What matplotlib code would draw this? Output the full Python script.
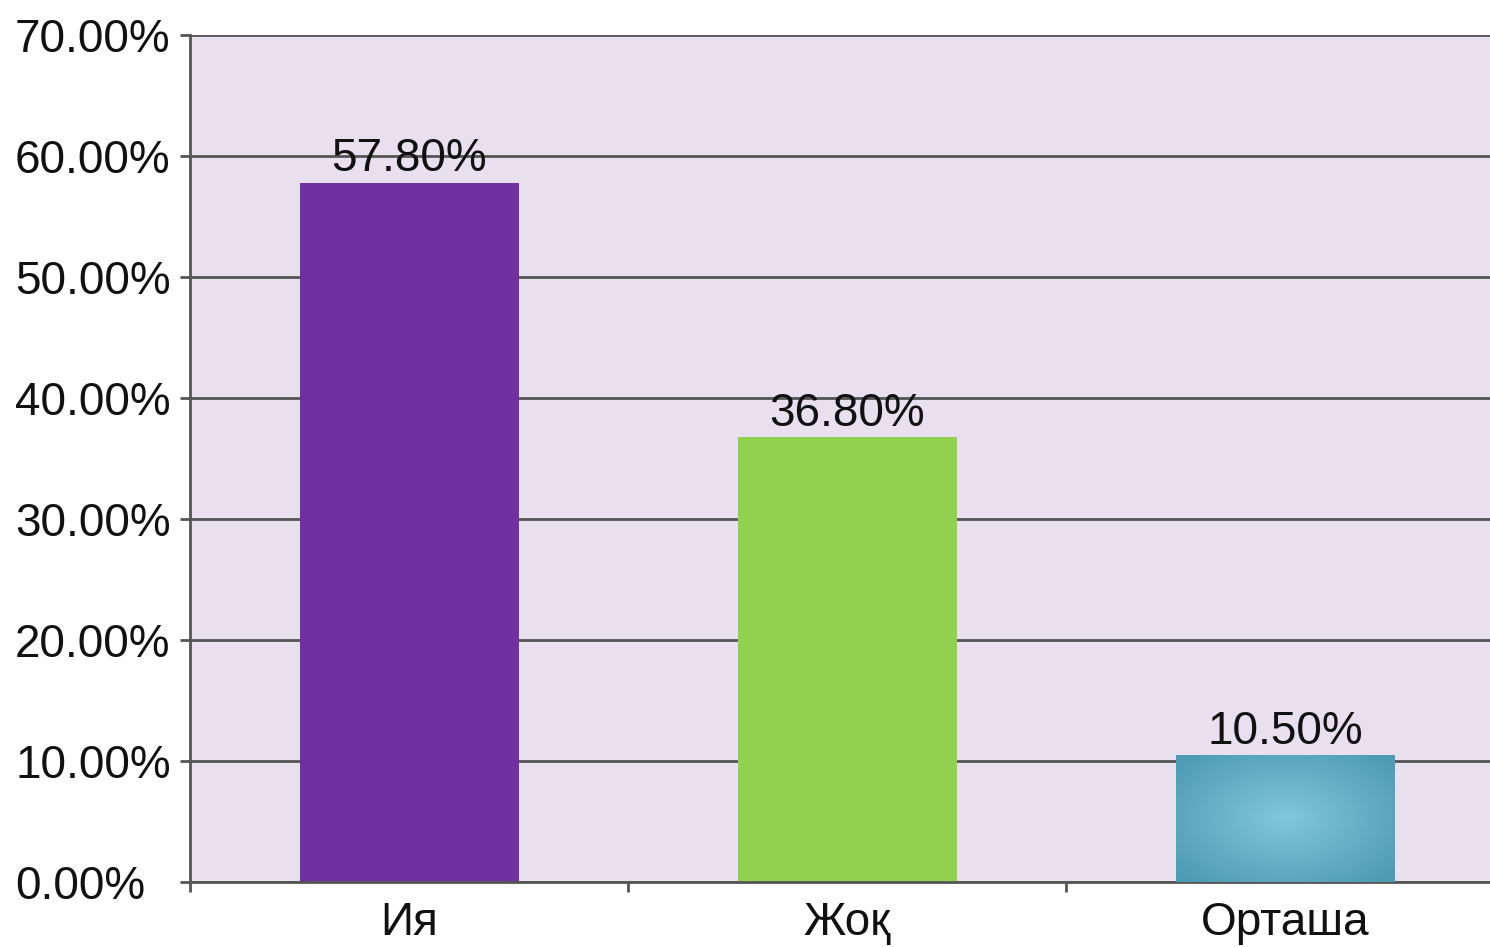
import numpy as np
import matplotlib.pyplot as plt
from matplotlib.colors import LinearSegmentedColormap

# data
categories = ["Ия", "Жоқ", "Орташа"]
values = [57.8, 36.8, 10.5]
labels = ["57.80%", "36.80%", "10.50%"]
yticks = [0, 10, 20, 30, 40, 50, 60, 70]
ytick_labels = ["0.00%", "10.00%", "20.00%", "30.00%", "40.00%", "50.00%", "60.00%", "70.00%"]
colors = ["#7030A0", "#92D050", "#4F9DB5"]

plt.rcParams['font.family'] = ['Liberation Sans', 'DejaVu Sans']

fig = plt.figure(figsize=(14.9, 9.47), dpi=100)
ax = fig.add_axes([190 / 1490, 1 - 882 / 947, 1314 / 1490, 847 / 947])
ax.set_facecolor("#E8E0EE")

x = np.arange(len(categories))
bars = ax.bar(x, values, width=0.5, color=colors, zorder=2)

# radial gradient on the third bar
b = bars[2]
bx, by = b.get_x(), b.get_y()
bw, bh = b.get_width(), b.get_height()
gx, gy = np.meshgrid(np.linspace(-1, 1, 200), np.linspace(-1, 1, 100))
r = np.clip(np.sqrt(gx ** 2 + gy ** 2) / 1.3, 0, 1)
cmap = LinearSegmentedColormap.from_list("teal", ["#82C6DA", "#4E9CB4"])
im = ax.imshow(r, cmap=cmap, extent=[bx, bx + bw, by, by + bh],
               aspect="auto", zorder=3, origin="lower")
im.set_clip_path(b)

# value labels
for xi, v, lab in zip(x, values, labels):
    ax.text(xi, v + 0.1, lab, ha="center", va="bottom", fontsize=33, color="#111111", zorder=4)

ax.set_xlim(-0.5, 2.5)
ax.set_ylim(0, 70)
ax.set_yticks(yticks)
ax.set_yticklabels(ytick_labels, ha="left")
ax.set_xticks(x)
ax.set_xticklabels(categories)
ax.set_xticks([-0.5, 0.5, 1.5], minor=True)

ax.yaxis.grid(True, color="#555555", linewidth=2, zorder=1)
ax.set_axisbelow(True)

ax.tick_params(axis="y", length=7, width=2, color="#555555", labelsize=33,
               pad=119, labelcolor="#111111")
ax.tick_params(axis="x", which="major", length=0, labelsize=33, pad=14, labelcolor="#111111")
ax.tick_params(axis="x", which="minor", length=7, width=2, color="#555555")

for s in ["top", "right"]:
    ax.spines[s].set_visible(False)
for s in ["left", "bottom"]:
    ax.spines[s].set_color("#555555")
    ax.spines[s].set_linewidth(2)

fig.savefig("out.png", dpi=100)
